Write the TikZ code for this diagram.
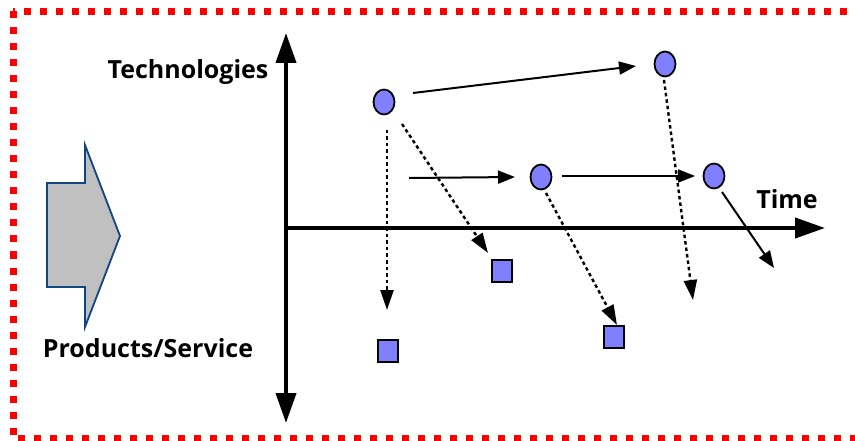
\documentclass[tikz,border=0pt]{standalone}
\usepackage{fontspec}
\setmainfont{Open Sans}
\usetikzlibrary{arrows.meta,shapes.geometric}
\definecolor{techblue}{RGB}{128,128,255}
\definecolor{blockgray}{RGB}{192,192,192}
\definecolor{blockedge}{RGB}{16,70,130}
\definecolor{frame}{RGB}{255,0,0}
\tikzset{
  tech/.style={ellipse,draw=black,line width=1.8pt,fill=techblue,
    minimum width=21pt,minimum height=25pt,inner sep=0pt},
  prod/.style={rectangle,draw=black,line width=2pt,fill=techblue,
    minimum width=20pt,minimum height=22pt,inner sep=0pt},
  axis/.style={line width=4pt,-{Triangle[length=30pt,width=20pt]}},
  move/.style={line width=2pt,-{Triangle[length=17pt,width=13pt]}},
  realize/.style={line width=2.4pt,dash pattern=on 3.5pt off 3pt,
    -{Triangle[length=20pt,width=13pt]}},
  lbl/.style={font=\bfseries\fontsize{25}{28}\selectfont,anchor=base,inner sep=0pt}
}
\begin{document}
\begin{tikzpicture}[x=1pt,y=-1pt]
\useasboundingbox (0,0) rectangle (855,441);
% dotted red frame
\draw[frame,line width=7pt,dash pattern=on 7pt off 9pt] (13,11.5) rectangle (859,438.5);
% block arrow on the left
\draw[fill=blockgray,draw=blockedge,line width=1.8pt,line join=miter]
  (47,183) -- (85,183) -- (85,145) -- (120,236) -- (85,327) -- (85,287) -- (47,287) -- cycle;
% axes
\coordinate (origin) at (286,228);
\coordinate (ytop) at (286,33);
\coordinate (ybot) at (286,423);
\coordinate (xend) at (825,228);
\draw[axis] (origin) -- (ytop);
\draw[axis] (origin) -- (ybot);
\draw[axis] (origin) -- (xend);
% labels
\node[lbl] (lt) at (188,79) {Technologies};
\node[lbl] (lx) at (787,208) {Time};
\node[lbl] (lp) at (148,357) {Products/Service};
% technologies
\node[tech] (t1) at (384,102) {};
\node[tech] (t2) at (665,64) {};
\node[tech] (t3) at (541,177) {};
\node[tech] (t4) at (714,176) {};
% products / services
\node[prod] (p1) at (502,271) {};
\node[prod] (p2) at (388,351) {};
\node[prod] (p3) at (614,337) {};
% arrow end points
\coordinate (a1s) at (413,93);   \coordinate (a1e) at (636,66);
\coordinate (a2s) at (409,178);  \coordinate (a2e) at (515,177);
\coordinate (a3s) at (562,176);  \coordinate (a3e) at (695,176);
\coordinate (a4s) at (722,192);  \coordinate (a4e) at (774,268);
\coordinate (d1s) at (387,130);  \coordinate (d1e) at (387,310);
\coordinate (d2s) at (402,124);  \coordinate (d2e) at (488,253);
\coordinate (d3s) at (546,193);  \coordinate (d3e) at (617,325);
\coordinate (d4s) at (664,80);   \coordinate (d4e) at (693,300);
% technology evolution
\draw[move] (a1s) -- (a1e);
\draw[move] (a2s) -- (a2e);
\draw[move] (a3s) -- (a3e);
\draw[move] (a4s) -- (a4e);
% technology to product
\draw[realize] (d1s) -- (d1e);
\draw[realize] (d2s) -- (d2e);
\draw[realize] (d3s) -- (d3e);
\draw[realize] (d4s) -- (d4e);
\end{tikzpicture}
\end{document}
